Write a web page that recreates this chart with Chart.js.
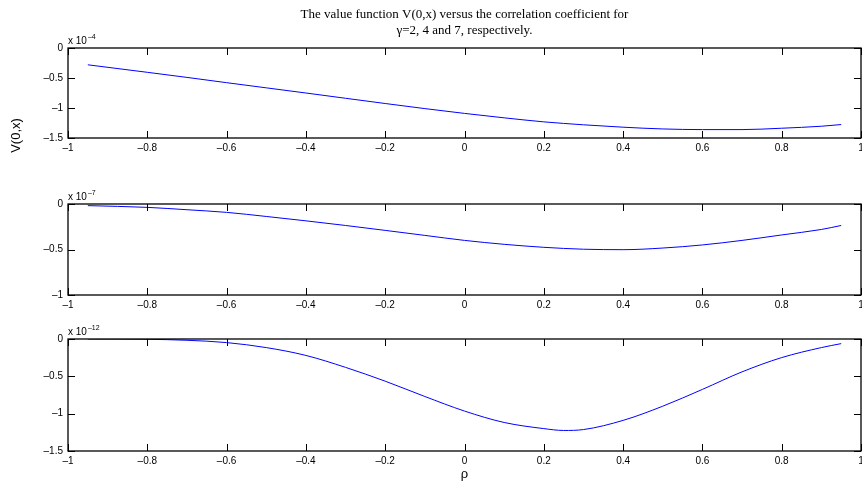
<!DOCTYPE html>
<html>
<head>
<meta charset="utf-8">
<script src="https://cdn.jsdelivr.net/npm/chart.js@4.4.1/dist/chart.umd.min.js"></script>
<style>
  body { margin: 0; background: #fff; }
  .panel { position: absolute; left: 0; width: 862px; }
  canvas { display: block; }
</style>
</head>
<body>
<div class="panel" style="top:0px;height:160px"><canvas id="c1" width="862" height="160"></canvas></div>
<div class="panel" style="top:160px;height:160px"><canvas id="c2" width="862" height="160"></canvas></div>
<div class="panel" style="top:320px;height:162px"><canvas id="c3" width="862" height="162"></canvas></div>
<script>
// correlation coefficient (x values, shared by all three panels)
const rho = [-0.95, -0.8, -0.7, -0.6, -0.5, -0.4, -0.3, -0.2, -0.1, 0, 0.1, 0.2, 0.25, 0.3, 0.4, 0.5, 0.6, 0.7, 0.8, 0.9, 0.95];

// V(0,x) for gamma = 2, in units of 1e-4
const vGamma2 = [-0.28, -0.405, -0.49, -0.578, -0.664, -0.75, -0.838, -0.925, -1.01, -1.09, -1.164, -1.231, -1.257, -1.28, -1.32, -1.349, -1.36, -1.36, -1.337, -1.304, -1.276];
// V(0,x) for gamma = 4, in units of 1e-7
const vGamma4 = [-0.018, -0.037, -0.063, -0.092, -0.137, -0.185, -0.236, -0.29, -0.345, -0.40, -0.443, -0.476, -0.488, -0.497, -0.502, -0.484, -0.45, -0.40, -0.34, -0.28, -0.236];
// V(0,x) for gamma = 7, in units of 1e-12
const vGamma7 = [0, -0.004, -0.017, -0.048, -0.115, -0.22, -0.38, -0.565, -0.77, -0.965, -1.118, -1.2, -1.225, -1.213, -1.09, -0.9, -0.675, -0.44, -0.249, -0.115, -0.062];

const exponents = ['-4', '-7', '-12'];
const yMins = [-1.5, -1, -1.5];
const titleLines = ['The value function V(0,x) versus the correlation coefficient for', '\u03b3=2, 4 and 7, respectively.'];

const sans = '"Liberation Sans", Arial, sans-serif';
Chart.defaults.color = '#000';
Chart.defaults.font.family = sans;

// format numbers the way the original plot does (long minus)
function fmt(v) {
    const r = Math.round(v * 10) / 10;
    if (r === 0) return '0';
    const s = String(Math.abs(r));
    return (r < 0 ? '\u2013' : '') + s;
}

// box around the axes, ticks pointing inwards, and the "x 10^n" label
const boxTicks = {
    id: 'boxTicks',
    afterDraw(chart, args, opts) {
        const { ctx, chartArea: a, scales } = chart;
        const len = 7;
        ctx.save();
        ctx.strokeStyle = '#000';
        ctx.lineWidth = 1;
        ctx.beginPath();
        scales.x.ticks.forEach(t => {
            const px = Math.round(scales.x.getPixelForValue(t.value)) + 0.5;
            ctx.moveTo(px, a.top); ctx.lineTo(px, a.top + len);
            ctx.moveTo(px, a.bottom); ctx.lineTo(px, a.bottom - len);
        });
        scales.y.ticks.forEach(t => {
            const py = Math.round(scales.y.getPixelForValue(t.value)) + 0.5;
            ctx.moveTo(a.left, py); ctx.lineTo(a.left + len, py);
            ctx.moveTo(a.right, py); ctx.lineTo(a.right - len, py);
        });
        ctx.stroke();
        ctx.lineWidth = 1.3;
        ctx.strokeRect(a.left, a.top, a.right - a.left, a.bottom - a.top);

        // exponent label
        ctx.fillStyle = '#000';
        ctx.textBaseline = 'alphabetic';
        ctx.textAlign = 'left';
        ctx.font = '10px ' + sans;
        ctx.fillText('x 10', a.left, a.top - 4);
        const w = ctx.measureText('x 10').width;
        ctx.font = '7px ' + sans;
        ctx.fillText('\u2013' + opts.exp.replace('-', ''), a.left + w + 1, a.top - 9);

        // y axis label only on first panel
        if (opts.ylabel) {
            ctx.save();
            ctx.translate(16, 135.5);
            ctx.rotate(-Math.PI / 2);
            ctx.textAlign = 'center';
            ctx.textBaseline = 'middle';
            ctx.font = '13px ' + sans;
            ctx.fillText(opts.ylabel, 0, 0);
            ctx.restore();
        }
        ctx.restore();
    }
};

function makePanel(id, values, idx, padTop, xHeight, withTitle, withXTitle) {
    const ctx = document.getElementById(id).getContext('2d');
    return new Chart(ctx, {
        type: 'line',
        data: {
            datasets: [{
                data: rho.map((r, i) => ({ x: r, y: values[i] })),
                borderColor: '#0000ff',
                borderWidth: 1,
                pointRadius: 0,
                cubicInterpolationMode: 'monotone',
                fill: false
            }]
        },
        options: {
            responsive: false,
            animation: false,
            layout: { padding: { top: padTop, right: 1, left: 0, bottom: 0 } },
            plugins: {
                legend: { display: false },
                tooltip: { enabled: false },
                title: {
                    display: withTitle,
                    fullSize: false,
                    text: titleLines,
                    color: '#000',
                    font: { family: '"Liberation Serif", "Times New Roman", serif', size: 13, weight: 'normal', lineHeight: 1.25 },
                    padding: { top: 6, bottom: 9.5 }
                },
                boxTicks: { exp: exponents[idx], ylabel: withTitle ? 'V(0,x)' : null }
            },
            scales: {
                x: {
                    type: 'linear',
                    min: -1,
                    max: 1,
                    grid: { display: false, drawTicks: false },
                    border: { display: false },
                    ticks: { stepSize: 0.2, padding: 4, font: { size: 10 }, maxRotation: 0, callback: v => fmt(v) },
                    title: {
                        display: withXTitle,
                        text: '\u03c1',
                        font: { size: 13 },
                        padding: { top: 0, bottom: 0 }
                    },
                    afterFit: s => {
                        s.height = xHeight;
                        s.paddingLeft = 0;
                        s.paddingRight = 0;
                    }
                },
                y: {
                    type: 'linear',
                    min: yMins[idx],
                    max: 0,
                    grid: { display: false, drawTicks: false },
                    border: { display: false },
                    ticks: { stepSize: 0.5, padding: 5, font: { size: 10 }, callback: v => fmt(v) },
                    afterFit: s => {
                        s.width = 68;
                        s.paddingTop = 0;
                        s.paddingBottom = 0;
                    }
                }
            }
        },
        plugins: [boxTicks]
    });
}

makePanel('c1', vGamma2, 0, 0, 22, true, false);
makePanel('c2', vGamma4, 1, 44, 25, false, false);
makePanel('c3', vGamma7, 2, 19, 31, false, true);
</script>
</body>
</html>
